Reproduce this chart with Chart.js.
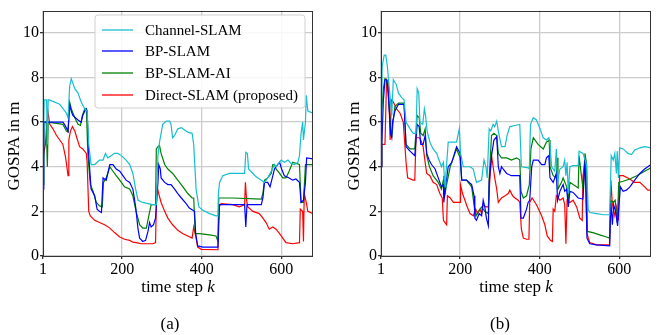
<!DOCTYPE html>
<html>
<head>
<meta charset="utf-8">
<script src="https://cdn.jsdelivr.net/npm/chart.js@4.4.1/dist/chart.umd.min.js"></script>
<style>
html,body{margin:0;padding:0;background:#fff;}
#wrap{position:relative;width:660px;height:335px;}
canvas{position:absolute;top:0;}
#ca{left:0;} #cb{left:330px;}
</style>
</head>
<body>
<div id="wrap">
<canvas id="ca" width="330" height="335"></canvas>
<canvas id="cb" width="330" height="335"></canvas>
</div>
<script>
// ---------- data: [time step k, GOSPA in m] ----------
const seriesNames = ["Channel-SLAM", "BP-SLAM", "BP-SLAM-AI", "Direct-SLAM (proposed)"];
const xTicks = [1, 200, 400, 600];
const yTicks = [0, 2, 4, 6, 8, 10];
const captions = ["(a)", "(b)"];

const aChannel = [[1,4.0],[4,7.0],[10,7.0],[12,5.0],[14,7.0],[17,7.0],[43,6.8],[60,6.4],[64,6.2],[68,7.6],[72,7.95],[81,7.5],[89,7.3],[97,6.9],[106,6.6],[112,6.5],[116,5.0],[122,4.1],[131,4.1],[143,4.3],[152,4.3],[158,4.6],[164,4.4],[173,4.5],[181,4.6],[189,4.6],[198,4.5],[210,4.3],[219,4.1],[227,3.7],[234,3.0],[240,2.5],[252,2.4],[265,2.35],[277,2.3],[286,2.3],[290,4.5],[294,5.1],[302,5.9],[311,6.05],[319,6.05],[323,5.9],[327,5.3],[332,5.4],[340,5.7],[349,5.75],[357,5.65],[365,5.55],[376,5.5],[380,5.0],[386,3.0],[393,2.2],[403,2.05],[420,1.9],[436,1.8],[441,1.8],[442,2.8],[445,3.3],[453,3.6],[470,3.7],[508,3.7],[511,4.65],[515,4.6],[518,3.9],[529,3.7],[537,3.55],[550,3.4],[558,3.3],[566,3.5],[575,3.8],[583,4.1],[587,4.0],[600,4.3],[608,4.2],[617,4.3],[625,4.15],[633,4.1],[642,4.2],[646,4.5],[650,5.5],[654,6.0],[656,5.2],[661,6.0],[663,7.2],[667,6.5],[680,6.4]];
const aBP = [[1,3.0],[3,6.0],[51,6.0],[55,5.9],[64,5.6],[68,6.8],[72,6.5],[76,6.3],[89,6.1],[97,6.0],[101,6.3],[106,6.5],[110,6.6],[112,6.5],[116,4.5],[122,3.0],[131,2.7],[137,2.1],[143,2.0],[148,1.95],[152,3.5],[160,3.4],[169,4.1],[177,4.1],[185,3.9],[194,3.8],[202,3.6],[210,3.4],[219,3.3],[227,3.0],[234,2.2],[240,1.2],[244,0.8],[252,0.65],[259,0.7],[265,1.1],[269,1.5],[273,1.3],[279,1.4],[284,1.7],[287,2.5],[290,3.3],[292,4.1],[296,3.9],[298,3.5],[307,3.3],[315,3.2],[323,3.2],[332,3.0],[340,2.8],[349,2.6],[361,2.35],[369,2.15],[378,2.05],[382,2.0],[385,1.0],[390,0.45],[403,0.4],[441,0.4],[443,1.4],[445,2.3],[508,2.3],[511,1.3],[514,2.3],[550,2.3],[554,2.6],[558,3.3],[566,3.3],[572,3.1],[579,3.6],[583,3.9],[591,4.1],[596,4.2],[601,3.9],[608,3.6],[620,3.5],[629,3.4],[637,3.45],[646,3.3],[650,2.4],[656,2.5],[661,3.3],[664,4.4],[680,4.35]];
const aAI = [[1,3.2],[3,6.0],[9,6.0],[12,4.0],[14,6.0],[51,5.9],[60,5.6],[64,5.55],[68,6.9],[72,6.6],[81,6.2],[89,5.9],[95,5.85],[100,6.3],[106,6.6],[110,6.6],[114,4.5],[120,3.2],[127,2.9],[135,2.4],[143,2.25],[150,2.2],[153,3.3],[160,3.5],[169,4.0],[177,3.8],[185,3.6],[194,3.4],[206,3.1],[219,3.0],[227,2.7],[235,2.0],[244,1.4],[252,1.25],[261,1.25],[267,1.8],[273,2.3],[284,2.3],[286,4.8],[290,4.9],[294,4.95],[298,4.6],[307,4.1],[315,3.9],[327,3.7],[340,3.4],[353,3.1],[365,2.8],[376,2.6],[380,2.6],[384,1.0],[395,1.0],[420,0.95],[436,0.9],[441,0.65],[443,2.6],[478,2.6],[550,2.55],[554,2.8],[558,3.4],[566,3.5],[575,3.7],[579,4.1],[583,4.1],[587,3.9],[596,3.7],[604,3.5],[612,3.5],[620,3.8],[629,4.2],[637,4.15],[646,4.1],[650,2.4],[656,2.4],[661,4.1],[680,4.1]];
const aDirect = [[1,3.2],[2,4.5],[7,5.0],[11,6.0],[14,6.4],[18,5.9],[26,5.7],[35,5.4],[43,5.2],[51,5.0],[58,4.4],[64,3.6],[66,5.2],[70,5.6],[75,5.8],[81,5.6],[86,5.3],[93,4.9],[101,4.8],[110,4.6],[112,4.2],[116,2.0],[120,1.8],[131,1.6],[143,1.5],[156,1.4],[169,1.25],[181,1.05],[194,0.85],[206,0.75],[219,0.7],[227,0.62],[235,0.6],[248,0.55],[261,0.55],[277,0.55],[284,0.6],[286,2.3],[288,3.1],[292,2.8],[298,2.4],[307,2.0],[315,1.7],[327,1.4],[340,1.15],[353,1.0],[365,0.9],[376,0.8],[380,1.3],[385,0.9],[390,0.4],[399,0.3],[441,0.28],[443,2.2],[449,2.35],[478,2.3],[495,2.2],[508,2.3],[510,3.3],[513,2.5],[516,2.2],[529,2.0],[545,1.9],[554,1.7],[562,1.5],[570,1.2],[579,1.3],[587,1.2],[596,1.0],[604,0.8],[612,0.6],[629,0.55],[646,0.6],[648,2.1],[654,2.0],[656,0.65],[658,2.8],[663,2.4],[667,2.0],[680,1.9]];

const bChannel = [[1,4.0],[4,8.5],[9,9.0],[13,9.0],[17,8.5],[22,7.5],[28,6.3],[32,7.9],[39,7.7],[45,7.3],[53,7.1],[59,7.0],[64,6.0],[74,5.7],[82,5.5],[89,5.5],[92,7.5],[96,7.3],[99,6.0],[106,5.9],[110,6.6],[113,6.3],[117,5.6],[124,5.1],[132,4.8],[141,4.6],[149,4.2],[153,4.0],[158,4.2],[162,3.1],[164,3.6],[170,5.1],[191,5.1],[198,5.7],[201,4.6],[208,4.0],[225,4.0],[233,3.9],[241,3.3],[254,3.4],[260,4.3],[265,4.0],[268,3.5],[273,5.7],[277,5.6],[283,5.9],[287,5.8],[292,6.05],[297,5.5],[304,4.9],[313,4.9],[318,5.4],[325,5.8],[338,5.85],[350,5.9],[354,4.0],[371,3.95],[374,3.9],[377,5.9],[384,6.2],[392,6.1],[401,5.7],[409,5.3],[417,5.2],[423,5.3],[426,5.0],[430,4.0],[438,3.8],[442,4.8],[445,3.3],[451,3.9],[459,4.0],[463,4.3],[466,3.6],[469,4.2],[472,2.8],[476,4.0],[484,4.05],[497,4.05],[499,4.7],[509,4.6],[518,4.1],[522,2.1],[526,1.95],[543,1.9],[560,1.85],[576,1.85],[580,4.5],[585,4.3],[589,4.6],[593,3.7],[595,4.7],[598,3.5],[601,4.85],[610,4.8],[622,4.6],[631,4.55],[639,4.75],[652,4.85],[664,4.9],[680,4.85]];
const bBP = [[1,4.0],[3,5.0],[7,7.0],[11,7.9],[15,7.9],[18,7.6],[22,6.5],[25,5.5],[28,5.3],[30,6.0],[36,6.5],[45,6.8],[59,6.8],[64,4.9],[74,4.7],[86,4.5],[92,5.9],[97,5.8],[101,5.0],[107,5.0],[112,5.4],[116,4.6],[122,4.3],[128,4.1],[137,3.9],[145,3.5],[153,3.1],[158,3.2],[159,2.4],[164,3.2],[170,4.0],[179,4.2],[191,4.9],[200,4.6],[204,3.4],[216,3.4],[229,3.2],[235,2.7],[237,1.7],[241,1.6],[248,1.9],[254,1.8],[258,2.5],[262,2.2],[266,1.7],[271,1.35],[273,3.3],[279,4.5],[285,5.2],[292,5.35],[296,4.0],[300,3.7],[304,4.0],[308,3.9],[317,3.7],[329,3.6],[350,3.6],[353,1.7],[359,1.7],[367,2.1],[371,2.4],[375,2.5],[380,4.0],[384,4.3],[396,4.3],[405,4.1],[413,4.1],[417,4.4],[423,4.5],[426,3.5],[434,3.3],[442,3.7],[445,2.5],[451,2.9],[459,3.2],[463,2.9],[468,3.0],[472,2.2],[476,2.9],[484,2.85],[497,2.6],[509,2.55],[514,4.3],[516,3.3],[519,0.8],[526,0.55],[543,0.5],[576,0.45],[579,2.4],[583,1.4],[586,2.3],[591,2.0],[596,1.35],[599,2.2],[603,3.1],[610,2.9],[618,2.95],[627,3.1],[639,3.4],[652,3.7],[664,3.9],[680,4.1]];
const bAI = [[1,4.0],[3,6.5],[7,7.5],[11,7.95],[15,7.9],[19,7.3],[24,6.0],[28,5.3],[32,6.1],[36,6.7],[45,6.85],[59,6.85],[64,5.0],[74,4.8],[86,4.8],[92,6.3],[97,6.2],[101,5.5],[107,5.4],[112,5.7],[116,4.5],[123,4.0],[132,3.6],[145,3.3],[153,3.0],[158,3.4],[159,3.6],[162,2.8],[166,3.2],[175,4.0],[183,4.4],[191,4.8],[200,4.4],[204,3.4],[216,3.4],[229,3.1],[235,2.3],[240,1.8],[246,2.0],[254,2.2],[262,2.0],[271,1.9],[273,3.5],[279,5.4],[285,5.5],[292,5.4],[296,4.6],[304,4.4],[317,4.4],[329,4.3],[342,4.4],[350,4.3],[353,2.9],[359,2.6],[367,2.7],[374,3.2],[378,4.8],[384,5.3],[396,5.0],[409,4.8],[417,5.1],[424,5.2],[426,4.0],[434,3.6],[442,3.5],[444,4.4],[446,3.0],[455,3.3],[459,3.5],[468,3.1],[472,2.5],[476,3.3],[484,3.2],[497,3.05],[499,4.5],[509,3.0],[514,4.6],[518,4.1],[520,1.1],[534,1.05],[551,0.95],[568,0.85],[576,0.8],[579,2.5],[585,2.4],[590,2.5],[595,1.5],[599,3.3],[610,3.35],[627,3.45],[644,3.6],[664,3.8],[680,3.95]];
const bDirect = [[1,4.0],[3,5.0],[11,5.0],[15,7.9],[19,7.8],[22,6.5],[24,5.2],[27,7.0],[32,6.9],[40,6.6],[49,6.4],[57,6.0],[61,5.0],[64,4.2],[68,3.5],[82,3.4],[86,3.4],[89,5.3],[97,5.3],[101,5.2],[107,4.9],[112,4.2],[116,3.7],[124,3.6],[132,3.3],[141,3.2],[149,2.8],[155,2.6],[158,1.6],[162,1.5],[166,1.4],[168,2.7],[175,2.6],[183,2.4],[200,2.4],[201,3.2],[206,2.8],[212,2.5],[218,2.2],[225,1.9],[233,1.8],[239,2.1],[244,1.9],[250,2.1],[254,1.9],[258,2.3],[265,2.2],[271,2.2],[275,3.5],[279,4.5],[283,4.0],[287,3.5],[292,3.0],[296,2.4],[304,2.6],[313,2.7],[321,2.8],[325,2.95],[332,2.7],[338,2.6],[346,2.5],[350,2.4],[354,1.2],[359,0.8],[367,0.75],[373,0.75],[375,2.4],[381,2.6],[392,2.3],[405,1.8],[413,1.4],[419,0.9],[427,0.7],[432,0.65],[434,2.1],[438,2.0],[442,2.7],[451,2.5],[459,2.6],[463,2.3],[466,0.55],[469,2.5],[476,2.4],[484,2.5],[493,2.2],[501,1.7],[507,1.6],[509,3.6],[512,4.0],[516,3.0],[519,1.0],[526,0.6],[543,0.5],[576,0.5],[579,3.4],[583,2.3],[589,1.8],[593,2.2],[598,1.6],[601,3.6],[610,3.6],[622,3.5],[631,3.4],[639,3.3],[652,3.3],[664,3.1],[672,2.95],[680,2.95]];

const colors = ["#17becf", "#0000ff", "#008000", "#ff0000"];
const SERIF = '"Liberation Serif", "DejaVu Serif", serif';

function toXY(arr){ return arr.map(p => ({x: p[0], y: p[1]})); }

function framePlugin(cfg){
  return {
    id: 'deco',
    afterDraw(chart){
      const ctx = chart.ctx, a = chart.chartArea;
      ctx.save();
      ctx.strokeStyle = '#333';
      ctx.lineWidth = 1;
      ctx.strokeRect(Math.round(a.left)+0.5, Math.round(a.top)+0.5, Math.round(a.right-a.left)-1, Math.round(a.bottom-a.top));
      ctx.fillStyle = '#000';
      // x-axis title: time step k
      const t1 = 'time step ';
      ctx.font = '17px ' + SERIF;
      const w1 = ctx.measureText(t1).width;
      ctx.font = 'italic 17px ' + SERIF;
      const w2 = ctx.measureText('k').width;
      const cx = (a.left + a.right)/2;
      const x0 = cx - (w1+w2)/2;
      ctx.textBaseline = 'alphabetic';
      ctx.textAlign = 'left';
      ctx.font = '17px ' + SERIF;
      ctx.fillText(t1, x0, 292);
      ctx.font = 'italic 17px ' + SERIF;
      ctx.fillText('k', x0 + w1, 292);
      // caption
      ctx.font = '17px ' + SERIF;
      ctx.textAlign = 'center';
      ctx.fillText(cfg.caption, 170, 329);
      // y-axis title
      ctx.save();
      ctx.translate(cfg.ylabX, 146);
      ctx.rotate(-Math.PI/2);
      ctx.textAlign = 'center';
      ctx.fillText('GOSPA in m', 0, 0);
      ctx.restore();
      // legend
      if (cfg.legend){
        const bx = 95, by = 15, bw = 210, bh = 93, r = 3;
        ctx.beginPath();
        ctx.moveTo(bx+r, by); ctx.lineTo(bx+bw-r, by); ctx.quadraticCurveTo(bx+bw, by, bx+bw, by+r);
        ctx.lineTo(bx+bw, by+bh-r); ctx.quadraticCurveTo(bx+bw, by+bh, bx+bw-r, by+bh);
        ctx.lineTo(bx+r, by+bh); ctx.quadraticCurveTo(bx, by+bh, bx, by+bh-r);
        ctx.lineTo(bx, by+r); ctx.quadraticCurveTo(bx, by, bx+r, by);
        ctx.closePath();
        ctx.fillStyle = 'rgba(255,255,255,0.85)';
        ctx.fill();
        ctx.strokeStyle = '#d0d0d0';
        ctx.lineWidth = 1;
        ctx.stroke();
        const rows = [30, 51, 73, 95];
        ctx.font = '15px ' + SERIF;
        ctx.textAlign = 'left';
        ctx.textBaseline = 'middle';
        chart.data.datasets.forEach((ds, i) => {
          ctx.strokeStyle = ds.borderColor;
          ctx.lineWidth = 1.3;
          ctx.beginPath(); ctx.moveTo(102, rows[i]); ctx.lineTo(133, rows[i]); ctx.stroke();
          ctx.fillStyle = '#000';
          ctx.fillText(ds.label, 145, rows[i]+1);
        });
      }
      ctx.restore();
    }
  };
}

function makeChart(id, data, cfg){
  const datasets = data.map((arr, i) => ({
    label: seriesNames[i],
    data: toXY(arr),
    borderColor: colors[i],
    backgroundColor: colors[i],
    borderWidth: 1.2,
    pointRadius: 0,
    tension: 0,
    fill: false
  }));
  return new Chart(document.getElementById(id), {
    type: 'line',
    data: { datasets },
    options: {
      responsive: false,
      animation: false,
      devicePixelRatio: 1,
      layout: { padding: { left: 0, right: cfg.rightPad, top: 8, bottom: 0 } },
      plugins: { legend: { display: false }, tooltip: { enabled: false } },
      scales: {
        x: {
          type: 'linear', min: 1, max: 680,
          afterBuildTicks: s => { s.ticks = xTicks.map(v => ({ value: v })); },
          afterFit: s => { s.height = 79; },
          grid: { color: '#cccccc', lineWidth: 1.3, tickLength: 3, tickColor: '#333', drawTicks: true },
          border: { display: false },
          ticks: { color: '#000', font: { family: SERIF, size: 16 }, padding: 1, maxRotation: 0, autoSkip: false }
        },
        y: {
          type: 'linear', min: 0, max: 11,
          afterBuildTicks: s => { s.ticks = yTicks.map(v => ({ value: v })); },
          afterFit: s => { s.width = cfg.yWidth; },
          grid: { color: '#cccccc', lineWidth: 1.3, tickLength: 3, tickColor: '#333', drawTicks: true },
          border: { display: false },
          ticks: { color: '#000', font: { family: SERIF, size: 16 }, padding: 1 }
        }
      }
    },
    plugins: [framePlugin(cfg)]
  });
}

makeChart('ca', [aChannel, aBP, aAI, aDirect], { yWidth: 43, rightPad: 17, legend: true, caption: captions[0], ylabX: 19 });
makeChart('cb', [bChannel, bBP, bAI, bDirect], { yWidth: 51, rightPad: 9, legend: false, caption: captions[1], ylabX: 29 });
</script>
</body>
</html>
